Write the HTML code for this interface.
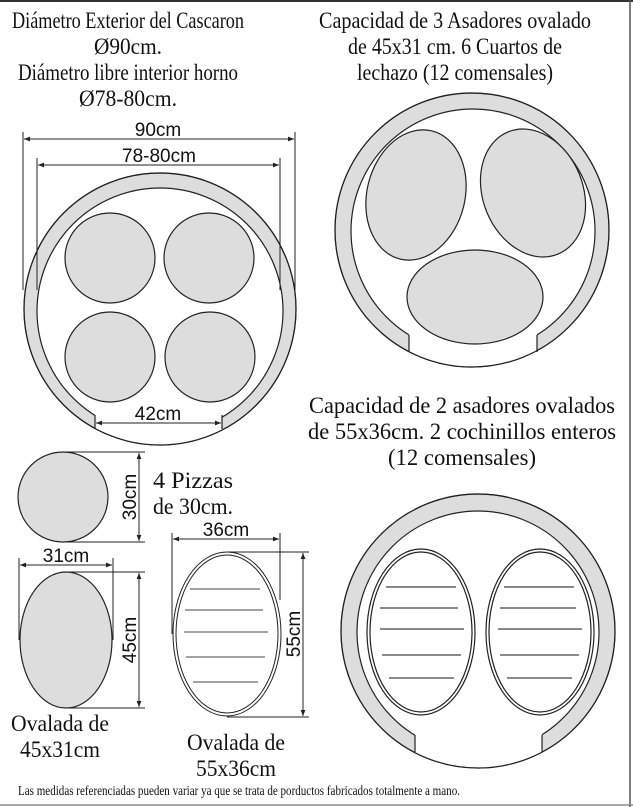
<!DOCTYPE html>
<html><head><meta charset="utf-8"><style>
html,body{margin:0;padding:0;background:#fff;width:633px;height:807px;overflow:hidden}
svg{display:block}
.t{font-family:"Liberation Serif",serif;font-size:23px;fill:#111}
.s{font-family:"Liberation Sans",sans-serif;font-size:19px;fill:#111}
</style></head><body>
<svg width="633" height="807" viewBox="0 0 633 807" xmlns="http://www.w3.org/2000/svg">
<defs>
<marker id="a" viewBox="0 0 10 10" refX="10" refY="5" markerWidth="6" markerHeight="6" orient="auto-start-reverse"><path d="M0,1 L10,5 L0,9" fill="#222"/></marker>
<clipPath id="c1"><circle cx="160" cy="309" r="136"/></clipPath>
<clipPath id="c2"><circle cx="472" cy="230" r="137"/></clipPath>
<clipPath id="c3"><circle cx="478" cy="631" r="137"/></clipPath>
</defs>
<line x1="0" y1="1" x2="633" y2="1" stroke="#333" stroke-width="2"/>
<line x1="630" y1="0" x2="630" y2="807" stroke="#555" stroke-width="1.5"/>
<line x1="0" y1="805" x2="633" y2="805" stroke="#888" stroke-width="1.5"/>

<g class="t" text-anchor="middle">
<text x="128" y="28" textLength="232" lengthAdjust="spacingAndGlyphs">Diámetro Exterior del Cascaron</text>
<text x="128" y="54" textLength="68" lengthAdjust="spacingAndGlyphs">Ø90cm.</text>
<text x="128" y="80" textLength="220" lengthAdjust="spacingAndGlyphs">Diámetro libre interior horno</text>
<text x="128" y="106" textLength="98" lengthAdjust="spacingAndGlyphs">Ø78-80cm.</text>
<text x="455" y="28" textLength="272" lengthAdjust="spacingAndGlyphs">Capacidad de 3 Asadores ovalado</text>
<text x="455" y="54" textLength="214" lengthAdjust="spacingAndGlyphs">de  45x31 cm. 6 Cuartos de</text>
<text x="455" y="80" textLength="196" lengthAdjust="spacingAndGlyphs">lechazo  (12 comensales)</text>
<text x="462" y="413" textLength="306" lengthAdjust="spacingAndGlyphs">Capacidad de 2 asadores ovalados</text>
<text x="462" y="439" textLength="308" lengthAdjust="spacingAndGlyphs">de 55x36cm. 2 cochinillos enteros</text>
<text x="462" y="465" textLength="148" lengthAdjust="spacingAndGlyphs">(12 comensales)</text>
<text x="60" y="731" textLength="98" lengthAdjust="spacingAndGlyphs">Ovalada de</text>
<text x="60" y="757" textLength="80" lengthAdjust="spacingAndGlyphs">45x31cm</text>
<text x="236" y="750" textLength="98" lengthAdjust="spacingAndGlyphs">Ovalada de</text>
<text x="236" y="776" textLength="80" lengthAdjust="spacingAndGlyphs">55x36cm</text>
</g>
<g class="t">
<text x="153" y="488" textLength="80" lengthAdjust="spacingAndGlyphs">4 Pizzas</text>
<text x="153" y="514" textLength="80" lengthAdjust="spacingAndGlyphs">de 30cm.</text>
<text x="18" y="795" style="font-size:14px" textLength="442" lengthAdjust="spacingAndGlyphs">Las medidas referenciadas pueden variar ya que se trata de porductos fabricados totalmente a mano.</text>
</g>

<g stroke="#222" stroke-width="1.2">
<circle cx="160" cy="309" r="136" fill="#ddd"/>
<circle cx="160" cy="311" r="123" fill="#fff"/>
<rect x="95" y="400" width="127" height="60" fill="#fff" stroke="none" clip-path="url(#c1)"/>
<circle cx="160" cy="309" r="136" fill="none"/>
<line x1="95" y1="415" x2="95" y2="429"/><line x1="222" y1="415" x2="222" y2="429"/>
<circle cx="110" cy="258" r="45" fill="#ddd"/>
<circle cx="209" cy="258" r="45" fill="#ddd"/>
<circle cx="110" cy="357" r="45" fill="#ddd"/>
<circle cx="210" cy="357" r="45" fill="#ddd"/>
</g>
<g stroke="#222" stroke-width="1">
<line x1="23" y1="132" x2="23" y2="290"/><line x1="295" y1="132" x2="295" y2="290"/>
<line x1="24" y1="139" x2="294" y2="139" marker-start="url(#a)" marker-end="url(#a)"/>
<line x1="37" y1="158" x2="37" y2="290"/><line x1="280" y1="158" x2="280" y2="290"/>
<line x1="38" y1="165" x2="279" y2="165" marker-start="url(#a)" marker-end="url(#a)"/>
<line x1="96" y1="423" x2="221" y2="423" marker-start="url(#a)" marker-end="url(#a)"/>
</g>
<g class="s" text-anchor="middle">
<text x="158" y="136">90cm</text>
<text x="159" y="162">78-80cm</text>
<text x="158" y="420">42cm</text>
</g>

<g stroke="#222" stroke-width="1.2">
<circle cx="472" cy="230" r="137" fill="#ddd"/>
<circle cx="473" cy="231" r="122" fill="#fff"/>
<rect x="409" y="320" width="128" height="60" fill="#fff" stroke="none" clip-path="url(#c2)"/>
<circle cx="472" cy="230" r="137" fill="none"/>
<line x1="409" y1="335" x2="409" y2="352"/><line x1="537" y1="335" x2="537" y2="352"/>
<ellipse cx="416" cy="195" rx="49" ry="66" transform="rotate(14 416 195)" fill="#ddd"/>
<ellipse cx="533" cy="193" rx="50" ry="66" transform="rotate(-22 533 193)" fill="#ddd"/>
<ellipse cx="475" cy="297" rx="68" ry="47" fill="#ddd"/>
</g>

<g stroke="#222" stroke-width="1.2">
<circle cx="478" cy="631" r="137" fill="#ddd"/>
<circle cx="478" cy="632" r="121" fill="#fff"/>
<rect x="415" y="720" width="127" height="60" fill="#fff" stroke="none" clip-path="url(#c3)"/>
<circle cx="478" cy="631" r="137" fill="none"/>
<line x1="415" y1="735" x2="415" y2="752"/><line x1="542" y1="735" x2="542" y2="752"/>
<ellipse cx="421" cy="632" rx="54" ry="83" fill="#fff"/>
<ellipse cx="421" cy="632" rx="51" ry="80" fill="none"/>
<ellipse cx="540" cy="632" rx="54" ry="83" fill="#fff"/>
<ellipse cx="540" cy="632" rx="51" ry="80" fill="none"/>
<g stroke="#444">
<line x1="386" y1="587" x2="456" y2="587"/><line x1="380" y1="608" x2="458" y2="608"/><line x1="380" y1="629" x2="464" y2="629"/><line x1="382" y1="655" x2="461" y2="655"/><line x1="389" y1="678" x2="454" y2="678"/>
<line x1="504" y1="587" x2="574" y2="587"/><line x1="500" y1="608" x2="576" y2="608"/><line x1="498" y1="629" x2="582" y2="629"/><line x1="500" y1="655" x2="579" y2="655"/><line x1="507" y1="678" x2="572" y2="678"/>
</g>
</g>

<g stroke="#222" stroke-width="1.2">
<circle cx="63" cy="497" r="45" fill="#ddd"/>
<ellipse cx="66" cy="640" rx="46" ry="68" fill="#ddd"/>
</g>
<g stroke="#222" stroke-width="1">
<line x1="63" y1="452" x2="145" y2="452"/><line x1="63" y1="542" x2="145" y2="542"/>
<line x1="139" y1="453" x2="139" y2="541" marker-start="url(#a)" marker-end="url(#a)"/>
<line x1="19" y1="558" x2="19" y2="640"/><line x1="113" y1="558" x2="113" y2="640"/>
<line x1="20" y1="565" x2="112" y2="565" marker-start="url(#a)" marker-end="url(#a)"/>
<line x1="66" y1="572" x2="145" y2="572"/><line x1="66" y1="708" x2="145" y2="708"/>
<line x1="139" y1="573" x2="139" y2="707" marker-start="url(#a)" marker-end="url(#a)"/>
<ellipse cx="227" cy="634" rx="54" ry="82" fill="#fff"/>
<ellipse cx="227" cy="634" rx="51" ry="79" fill="none"/>
<line x1="172" y1="533" x2="172" y2="634"/><line x1="280" y1="533" x2="280" y2="600"/>
<line x1="173" y1="539" x2="279" y2="539" marker-start="url(#a)" marker-end="url(#a)"/>
<line x1="227" y1="552" x2="309" y2="552"/><line x1="227" y1="717" x2="309" y2="717"/>
<line x1="303" y1="553" x2="303" y2="716" marker-start="url(#a)" marker-end="url(#a)"/>
<g stroke="#444">
<line x1="190" y1="589" x2="260" y2="589"/><line x1="185" y1="610" x2="263" y2="610"/><line x1="184" y1="632" x2="268" y2="632"/><line x1="186" y1="657" x2="265" y2="657"/><line x1="193" y1="682" x2="258" y2="682"/>
</g>
</g>
<g class="s" text-anchor="middle">
<text x="66" y="562">31cm</text>
<text x="226" y="536">36cm</text>
<text transform="translate(136 497) rotate(-90)">30cm</text>
<text transform="translate(136 640) rotate(-90)">45cm</text>
<text transform="translate(300 634) rotate(-90)">55cm</text>
</g>
</svg>
</body></html>
